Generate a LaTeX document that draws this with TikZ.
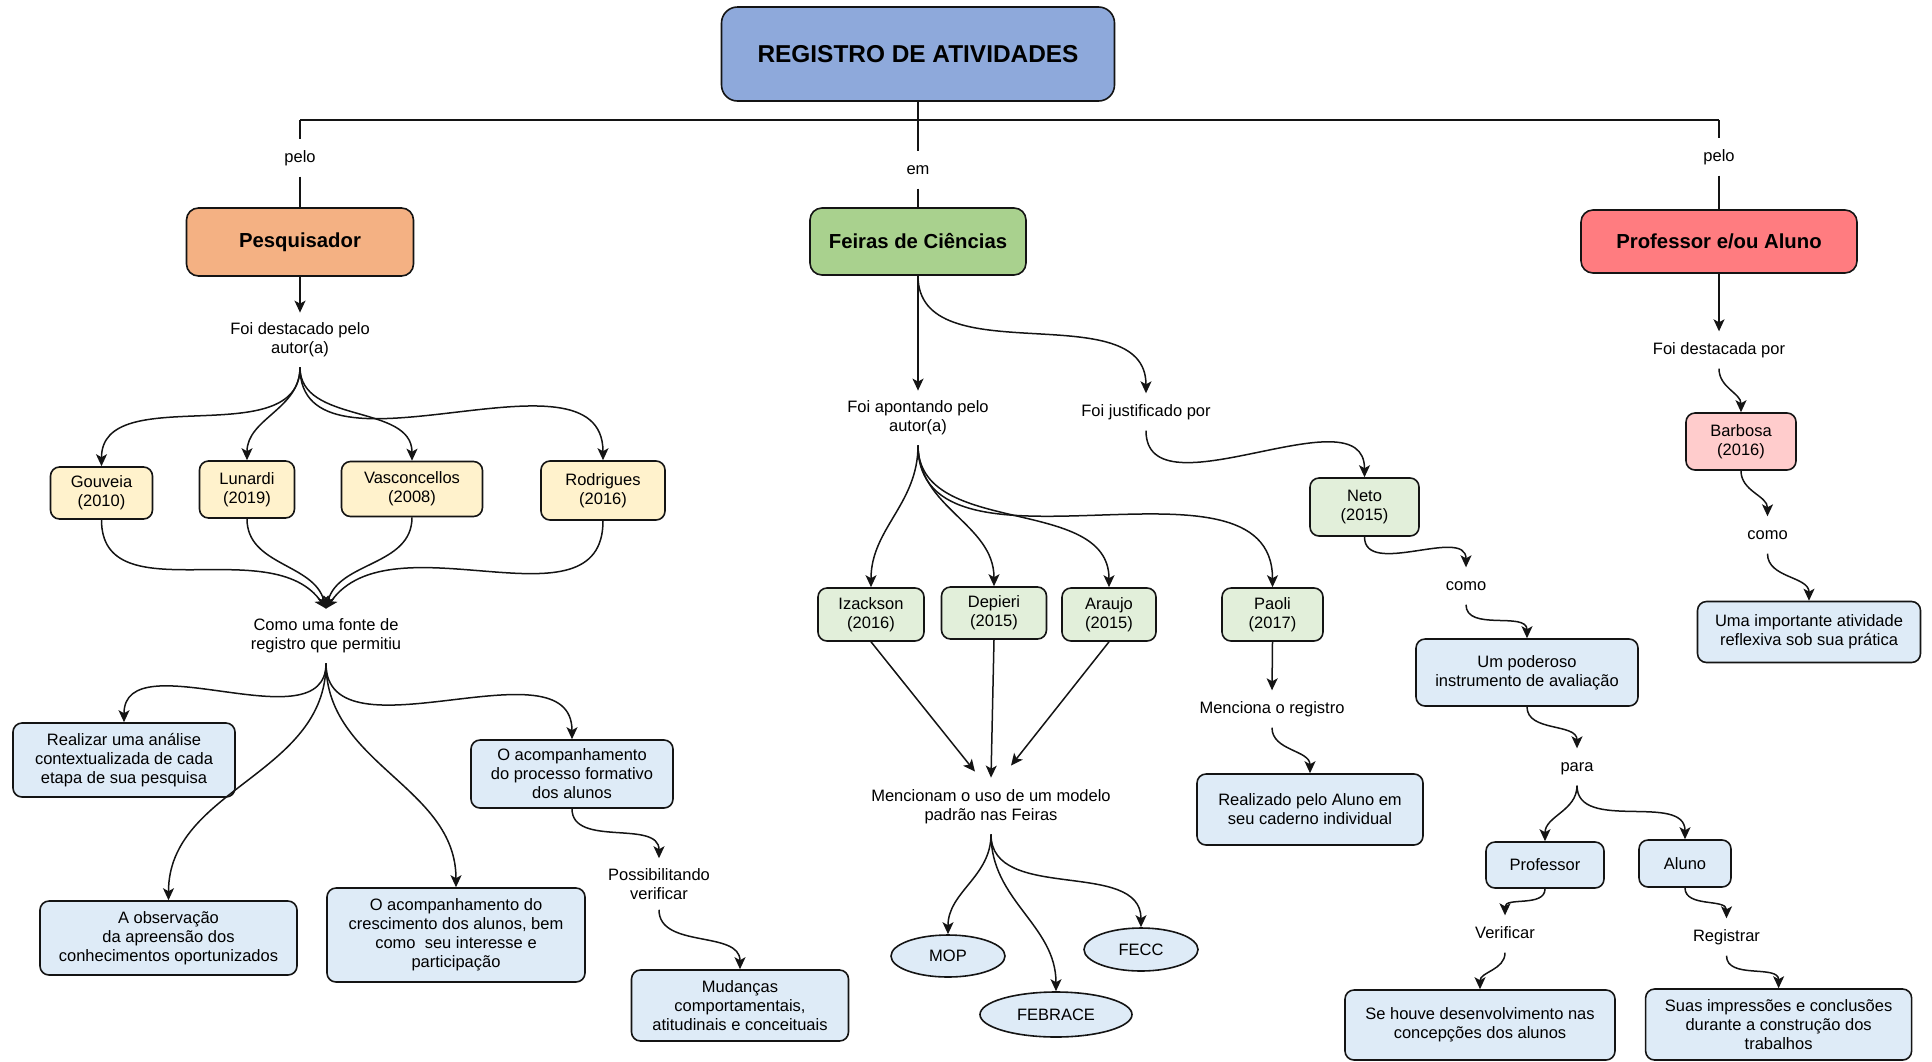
\documentclass[tikz,border=0pt]{standalone}
\usepackage{fontspec}
\setmainfont{Liberation Sans}
\usetikzlibrary{arrows.meta,shapes.geometric}
\definecolor{rootc}{HTML}{8EA9DB}
\definecolor{pesqc}{HTML}{F4B183}
\definecolor{feirc}{HTML}{A9D18E}
\definecolor{profc}{HTML}{FF7C80}
\definecolor{yelc}{HTML}{FFF2CC}
\definecolor{grnc}{HTML}{E2EFDA}
\definecolor{bluc}{HTML}{DEEBF7}
\definecolor{pinkc}{HTML}{FFCCCC}
\definecolor{edgec}{HTML}{141414}
\newcommand{\titlefnt}{\bfseries\fontsize{20.3}{24}\selectfont}
\begin{document}
\begin{tikzpicture}[x=1pt,y=1pt,
  every node/.style={font=\fontsize{16.5}{19}\selectfont},
  box/.style={draw=edgec, line width=1.6pt, rounded corners=9pt, align=center, inner sep=2pt},
  ybox/.style={box, fill=yelc},
  gbox/.style={box, fill=grnc},
  bbox/.style={box, fill=bluc},
  ell/.style={ellipse, draw=edgec, line width=1.6pt, fill=bluc, inner sep=0pt},
  lbl1/.style={align=center, text height=12pt, text depth=4pt, inner xsep=4pt, inner ysep=10.5pt},
  lbl2/.style={align=center, inner xsep=4pt, inner ysep=10pt},
  con/.style={line width=1.5pt, draw=edgec},
  arr/.style={con, -{Stealth[length=12pt,width=11pt,inset=3pt]}},
  cv/.style={arr, out=-90, in=90}
]
\useasboundingbox (0,0) rectangle (1932,-1061);

% main nodes
\node[box, fill=rootc, rounded corners=16pt, minimum width=393, minimum height=94,
      font=\bfseries\fontsize{24.4}{28}\selectfont] (root) at (918,-54) {REGISTRO DE ATIVIDADES};
\node[box, fill=pesqc, rounded corners=12pt, minimum width=227, minimum height=68, font=\titlefnt] (pesq) at (300,-242) {Pesquisador};
\node[box, fill=feirc, rounded corners=12pt, minimum width=216, minimum height=67, font=\titlefnt] (feiras) at (918,-241.5) {Feiras de Ciências};
\node[box, fill=profc, rounded corners=12pt, minimum width=276, minimum height=63, font=\titlefnt] (prof) at (1719,-241.5) {Professor e/ou Aluno};

\coordinate (hm) at (918,-120);
\coordinate (hl) at (300,-120);
\coordinate (hr) at (1719,-120);

\node[lbl1] (lpelo1) at (300,-158) {pelo};
\node[lbl1] (lem) at (918,-170) {em};
\node[lbl1] (lpelo2) at (1719,-157) {pelo};

% left branch
\node[lbl2] (lfoi1) at (300,-340) {Foi destacado pelo\\autor(a)};
\node[ybox, minimum width=102, minimum height=52] (gouveia) at (101.5,-493) {Gouveia\\(2010)};
\node[ybox, minimum width=95, minimum height=57] (lunardi) at (247,-489.5) {Lunardi\\(2019)};
\node[ybox, minimum width=141, minimum height=55] (vasc) at (412,-489) {Vasconcellos\\(2008)};
\node[ybox, minimum width=124, minimum height=59] (rodr) at (603,-490.5) {Rodrigues\\(2016)};
\node[lbl2] (lcomo1) at (326,-636) {Como uma fonte de\\registro que permitiu};
\node[bbox, minimum width=222, minimum height=74] (realizar) at (124,-760) {Realizar uma análise\\contextualizada de cada\\etapa de sua pesquisa};
\node[bbox, minimum width=202, minimum height=68] (acomp1) at (572,-774) {O acompanhamento\\do processo formativo\\dos alunos};
\node[bbox, minimum width=257, minimum height=74] (obs) at (168.5,-938) {A observação\\da apreensão dos\\conhecimentos oportunizados};
\node[bbox, minimum width=258, minimum height=94] (acomp2) at (456,-935) {O acompanhamento do\\crescimento dos alunos, bem\\como\ \ seu interesse e\\participação};
\node[lbl2] (lposs) at (659,-884) {Possibilitando\\verificar};
\node[bbox, minimum width=217, minimum height=71] (mud) at (740,-1005.5) {Mudanças\\comportamentais,\\atitudinais e conceituais};

% middle branch
\node[lbl2] (lapont) at (918,-418) {Foi apontando pelo\\autor(a)};
\node[lbl1] (ljust) at (1146,-412) {Foi justificado por};
\node[gbox, minimum width=106, minimum height=53] (izack) at (871,-614.5) {Izackson\\(2016)};
\node[gbox, minimum width=105, minimum height=52] (depieri) at (994,-613) {Depieri\\(2015)};
\node[gbox, minimum width=94, minimum height=53] (araujo) at (1109,-614.5) {Araujo\\(2015)};
\node[gbox, minimum width=101, minimum height=53] (paoli) at (1272.5,-614.5) {Paoli\\(2017)};
\node[gbox, minimum width=109, minimum height=58] (neto) at (1364.5,-507) {Neto\\(2015)};
\node[lbl1] (lcomo2) at (1466,-586) {como};
\node[bbox, minimum width=222, minimum height=67] (poder) at (1527,-672.5) {Um poderoso\\instrumento de avaliação};
\node[lbl1] (lpara) at (1577,-767) {para};
\node[bbox, minimum width=118, minimum height=46] (profb) at (1545,-865) {Professor};
\node[bbox, minimum width=92, minimum height=47] (aluno) at (1685,-863.5) {Aluno};
\node[lbl1] (lverif) at (1505,-934) {Verificar};
\node[lbl1] (lreg) at (1726.5,-937) {Registrar};
\node[bbox, minimum width=270, minimum height=70] (sehouve) at (1480,-1025) {Se houve desenvolvimento nas\\concepções dos alunos};
\node[bbox, minimum width=266, minimum height=71] (suas) at (1778.6,-1024.5) {Suas impressões e conclusões\\durante a construção dos\\trabalhos};
\node[lbl1] (lmenc1) at (1272,-709) {Menciona o registro};
\node[bbox, minimum width=226, minimum height=71] (realizado) at (1310,-809.5) {Realizado pelo Aluno em\\seu caderno individual};
\node[lbl2] (lmenc2) at (991,-807) {Mencionam o uso de um modelo\\padrão nas Feiras};
\node[ell, minimum width=114, minimum height=42] (mop) at (948,-956) {MOP};
\node[ell, minimum width=152, minimum height=45] (febrace) at (1056,-1014.5) {FEBRACE};
\node[ell, minimum width=114, minimum height=43] (fecc) at (1141,-949.5) {FECC};

% right branch
\node[lbl1] (lfoi3) at (1719,-350) {Foi destacada por};
\node[box, fill=pinkc, minimum width=110, minimum height=57] (barbosa) at (1741,-441.5) {Barbosa\\(2016)};
\node[lbl1] (lcomo3) at (1767.5,-535) {como};
\node[bbox, minimum width=223, minimum height=61] (uma) at (1809,-632) {Uma importante atividade\\reflexiva sob sua prática};

% top connectors
\draw[con] (root.south) -- (hm);
\draw[con] (hl) -- (hr);
\draw[con] (hl) -- (lpelo1.north);
\draw[con] (lpelo1.south) -- (pesq.north);
\draw[con] (hm) -- (lem.north);
\draw[con] (lem.south) -- (feiras.north);
\draw[con] (hr) -- (lpelo2.north);
\draw[con] (lpelo2.south) -- (prof.north);

% left connectors
\draw[arr] (pesq.south) -- (lfoi1.north);
\draw[cv] (lfoi1.south) to (gouveia.north);
\draw[cv] (lfoi1.south) to (lunardi.north);
\draw[cv] (lfoi1.south) to (vasc.north);
\draw[cv] (lfoi1.south) to (rodr.north);
\draw[arr] (gouveia.south) to[out=-90, in=125] (lcomo1.north);
\draw[arr] (lunardi.south) to[out=-90, in=105] (lcomo1.north);
\draw[arr] (vasc.south) to[out=-90, in=75] (lcomo1.north);
\draw[arr] (rodr.south) to[out=-90, in=55] (lcomo1.north);
\draw[cv] (lcomo1.south) to (realizar.north);
\draw[cv] (lcomo1.south) to (acomp1.north);
\draw[cv] (lcomo1.south) to (obs.north);
\draw[cv] (lcomo1.south) to (acomp2.north);
\draw[cv] (acomp1.south) to (lposs.north);
\draw[cv] (lposs.south) to (mud.north);

% middle connectors
\draw[arr] (feiras.south) -- (lapont.north);
\draw[cv] (feiras.south) to (ljust.north);
\draw[cv] (lapont.south) to (izack.north);
\draw[cv] (lapont.south) to (depieri.north);
\draw[cv] (lapont.south) to (araujo.north);
\draw[cv] (lapont.south) to (paoli.north);
\draw[arr] (izack.south) -- ([xshift=-16pt,yshift=8pt]lmenc2.north);
\draw[arr] (depieri.south) -- ([yshift=2pt]lmenc2.north);
\draw[arr] (araujo.south) -- ([xshift=20pt,yshift=14pt]lmenc2.north);
\draw[cv] (lmenc2.south) to (mop.north);
\draw[cv] (lmenc2.south) to (febrace.north);
\draw[cv] (lmenc2.south) to (fecc.north);
\draw[arr] (paoli.south) -- (lmenc1.north);
\draw[cv] (lmenc1.south) to (realizado.north);
\draw[cv] (ljust.south) to (neto.north);
\draw[cv] (neto.south) to (lcomo2.north);
\draw[cv] (lcomo2.south) to (poder.north);
\draw[cv] (poder.south) to (lpara.north);
\draw[cv] (lpara.south) to (profb.north);
\draw[cv] (lpara.south) to (aluno.north);
\draw[cv] (profb.south) to (lverif.north);
\draw[cv] (aluno.south) to (lreg.north);
\draw[cv] (lverif.south) to (sehouve.north);
\draw[cv] (lreg.south) to (suas.north);

% right connectors
\draw[arr] (prof.south) -- (lfoi3.north);
\draw[cv] (lfoi3.south) to (barbosa.north);
\draw[cv] (barbosa.south) to (lcomo3.north);
\draw[cv] (lcomo3.south) to (uma.north);
\end{tikzpicture}
\end{document}
